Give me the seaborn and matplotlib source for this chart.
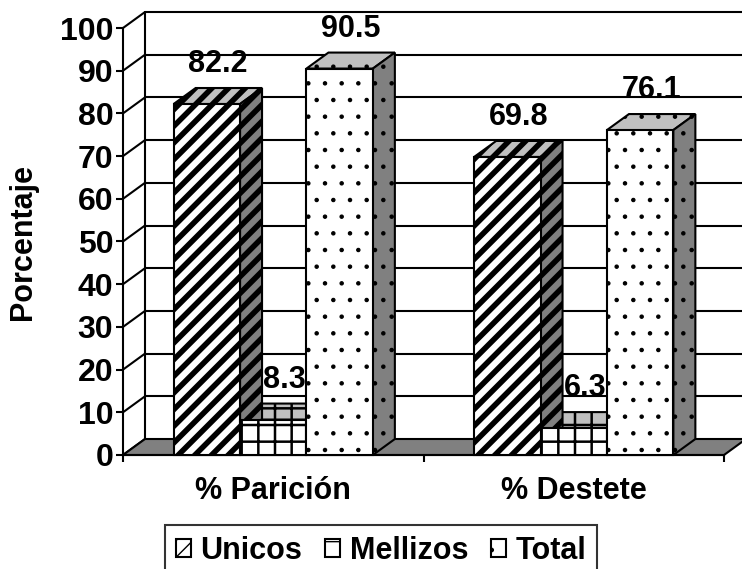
import matplotlib
matplotlib.use("Agg")
import matplotlib.pyplot as plt
from matplotlib.patches import Polygon
import pandas as pd
import seaborn as sns

# ── datos ─────────────────────────────────────────────
indicadores = ["% Parición", "% Destete"]
grupos = ["Unicos", "Mellizos", "Total"]
unicos = [82.2, 69.8]
mellizos = [8.3, 6.3]
total = [90.5, 76.1]
y_ticks = list(range(0, 101, 10))

# ── estilo ────────────────────────────────────────────
sns.set_theme(style="white")
plt.rcParams["font.family"] = ["Liberation Sans", "DejaVu Sans"]
plt.rcParams["font.weight"] = "bold"
plt.rcParams["axes.labelweight"] = "bold"
for k in ["text.color", "axes.labelcolor", "xtick.color", "ytick.color"]:
    plt.rcParams[k] = "black"
FS = 22
LW = 1.5
HATCHES = {"Unicos": "//", "Mellizos": "+", "Total": "."}
HATCH_LW = {"Unicos": 4.0, "Mellizos": 1.8, "Total": 0.8}
SIDE = "#808080"
TOP = "#c0c0c0"
DX_PX, DY_PX = 22, 16   # profundidad del efecto 3D, en píxeles


def set_hlw(patch, grupo):
    if hasattr(patch, "set_hatch_linewidth"):
        patch.set_hatch_linewidth(HATCH_LW[grupo])


df = pd.DataFrame({
    "Indicador": indicadores * 3,
    "Grupo": [g for g in grupos for _ in indicadores],
    "Porcentaje": unicos + mellizos + total,
})

fig = plt.figure(figsize=(7.42, 5.69), dpi=100)
ax = fig.add_axes([123 / 742, 114 / 569, 601 / 742, 427 / 569])

sns.barplot(data=df, x="Indicador", y="Porcentaje", hue="Grupo",
            hue_order=grupos, palette=["white"] * 3, saturation=1,
            edgecolor="black", linewidth=LW, width=0.663, gap=0,
            legend=False, ax=ax)

ax.set_xlim(-0.5, 1.5)
ax.set_ylim(0, 100)

# profundidad en unidades de datos
dx = DX_PX / (601 / 2)
dy = DY_PX / (427 / 100)

# pared del fondo, rejilla y pared lateral
for v in y_ticks[1:]:
    ax.plot([-0.5 + dx, 1.5 + dx], [v + dy, v + dy], color="black",
            lw=LW, clip_on=False, zorder=1)
ax.plot([-0.5 + dx, -0.5 + dx], [dy, 100 + dy], color="black",
        lw=LW, clip_on=False, zorder=1)
for v in y_ticks:
    ax.plot([-0.5, -0.5 + dx], [v, v + dy], color="black",
            lw=LW, clip_on=False, zorder=1)

# piso
ax.add_patch(Polygon([(-0.5, 0), (1.5, 0), (1.5 + dx, dy), (-0.5 + dx, dy)],
                     closed=True, facecolor=SIDE, edgecolor="black",
                     lw=LW, clip_on=False, zorder=2))

# barras: caras frontales, superiores y laterales
for i, (grupo, cont) in enumerate(zip(grupos, ax.containers)):
    for bar in cont.patches:
        bar.set_hatch(HATCHES[grupo])
        set_hlw(bar, grupo)
        bar.set_zorder(6)
        bar.set_clip_on(False)
        x0 = bar.get_x()
        x1 = x0 + bar.get_width()
        h = bar.get_height()
        z = 3 + (len(grupos) - i) * 0.1
        top = Polygon([(x0, h), (x1, h), (x1 + dx, h + dy), (x0 + dx, h + dy)],
                      closed=True, facecolor=TOP, edgecolor="black", lw=LW,
                      hatch=HATCHES[grupo], clip_on=False, zorder=z)
        side = Polygon([(x1, 0), (x1, h), (x1 + dx, h + dy), (x1 + dx, dy)],
                       closed=True, facecolor=SIDE, edgecolor="black", lw=LW,
                       hatch=HATCHES[grupo], clip_on=False, zorder=z)
        for p in (top, side):
            set_hlw(p, grupo)
            ax.add_patch(p)
        ax.annotate(f"{h:.1f}", xy=(x0 + bar.get_width() / 2, h),
                    xytext=(DX_PX / 2, 40), textcoords="offset pixels",
                    ha="center", va="center", fontsize=FS,
                    fontweight="bold", zorder=8, annotation_clip=False)

# ejes
for s in ["top", "right"]:
    ax.spines[s].set_visible(False)
for s in ["left", "bottom"]:
    ax.spines[s].set_color("black")
    ax.spines[s].set_linewidth(LW)
    ax.spines[s].set_zorder(2.5)

ax.set_yticks(y_ticks)
ax.tick_params(axis="y", length=5, width=LW, pad=2, labelsize=FS + 1,
               left=True, color="black")
ax.set_xticks([0, 1], indicadores)
ax.set_xticks([-0.5, 0.5, 1.5], minor=True)
ax.tick_params(axis="x", which="major", length=0, pad=15, labelsize=FS)
ax.tick_params(axis="x", which="minor", length=5, width=LW, bottom=True,
               color="black")
for lab in ax.get_xticklabels() + ax.get_yticklabels():
    lab.set_fontweight("bold")

ax.set_xlabel("")
ax.set_ylabel("Porcentaje", fontsize=FS, fontweight="bold")
ax.yaxis.set_label_coords(-0.142, 0.5)

handles = [cont.patches[0] for cont in ax.containers]
leg = fig.legend(handles, grupos, loc="upper center",
                 bbox_to_anchor=(381 / 742, 1 - 525 / 569), ncol=3,
                 fontsize=FS, frameon=True, fancybox=False,
                 edgecolor="black", handlelength=0.5, handleheight=0.5,
                 handletextpad=0.3, columnspacing=0.75, borderpad=0.35,
                 borderaxespad=0)
leg.get_frame().set_linewidth(LW)
for t in leg.get_texts():
    t.set_fontweight("bold")

fig.savefig("out.png", dpi=100)
